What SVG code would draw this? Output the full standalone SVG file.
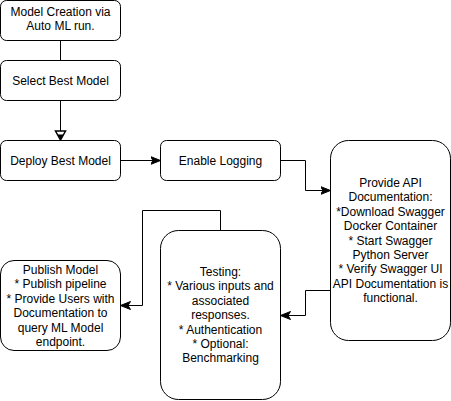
<svg xmlns="http://www.w3.org/2000/svg" width="451" height="401" viewBox="0 0 451 401">
<style>
.box{fill:#fff;stroke:#000;stroke-width:1}
.t{font-family:"Liberation Sans",Arial,Helvetica,sans-serif;font-size:12px;fill:#000;text-anchor:middle}
.c{fill:none;stroke:#000;stroke-width:1}
</style>
<defs>
<marker id="arr" viewBox="0 0 10 10" refX="9" refY="5" markerWidth="10" markerHeight="10" markerUnits="userSpaceOnUse" orient="auto">
<path d="M0,1 L10,5 L0,9 L2.5,5 Z" fill="#000" stroke="#000" stroke-width="1"/>
</marker>
</defs>
<rect width="451" height="401" fill="#fff"/>
<g id="connectors">
<path class="c" d="M60.5,40.5 V60.5"/>
<path class="c" d="M60.5,100.5 V131"/>
<path d="M55.5,131 L65.5,131 L60.5,140 Z" fill="#fff" stroke="#000" stroke-width="1.5"/>
<path d="M57.5,134.5 L63.5,134.5 L60.5,140 Z" fill="#000"/>
<path class="c" d="M120.5,160.5 H159.5" marker-end="url(#arr)"/>
<path class="c" d="M280.5,160.5 H305.5 V190.5 H329.5" marker-end="url(#arr)"/>
<path class="c" d="M330.5,290.5 H305.5 V315.5 H281.5" marker-end="url(#arr)"/>
<path class="c" d="M220.5,230.5 V210.5 H142.5 V305.5 H121.5" marker-end="url(#arr)"/>
</g>
<g id="n1">
<rect class="box" x="0.5" y="0.5" width="120" height="40" rx="6" ry="6"/>
<text class="t" x="60.5" y="16">Model Creation via</text>
<text class="t" x="60.5" y="30">Auto ML run.</text>
</g>
<g id="n2">
<rect class="box" x="0.5" y="60.5" width="120" height="40" rx="6" ry="6"/>
<text class="t" x="60.5" y="85">Select Best Model</text>
</g>
<g id="n3">
<rect class="box" x="0.5" y="140.5" width="120" height="40" rx="6" ry="6"/>
<text class="t" x="60.5" y="165">Deploy Best Model</text>
</g>
<g id="n4">
<rect class="box" x="160.5" y="140.5" width="120" height="40" rx="6" ry="6"/>
<text class="t" x="220.5" y="165">Enable Logging</text>
</g>
<g id="n5">
<rect class="box" x="330.5" y="140.5" width="120" height="200" rx="18" ry="18"/>
<text class="t" x="390.5" y="187">Provide API</text>
<text class="t" x="390.5" y="201.4">Documentation:</text>
<text class="t" x="390.5" y="215.8">*Download Swagger</text>
<text class="t" x="390.5" y="230.2">Docker Container</text>
<text class="t" x="390.5" y="244.6">* Start Swagger</text>
<text class="t" x="390.5" y="259">Python Server</text>
<text class="t" x="390.5" y="273.4">* Verify Swagger UI</text>
<text class="t" x="390.5" y="287.8">API Documentation is</text>
<text class="t" x="390.5" y="302.2">functional.</text>
</g>
<g id="n6">
<rect class="box" x="160.5" y="230.5" width="120" height="169" rx="18" ry="18"/>
<text class="t" x="220.5" y="276">Testing:</text>
<text class="t" x="220.5" y="290.4">* Various inputs and</text>
<text class="t" x="220.5" y="304.8">associated</text>
<text class="t" x="220.5" y="319.2">responses.</text>
<text class="t" x="220.5" y="333.6">* Authentication</text>
<text class="t" x="220.5" y="348">* Optional:</text>
<text class="t" x="220.5" y="362.4">Benchmarking</text>
</g>
<g id="n7">
<rect class="box" x="0.5" y="260.5" width="120" height="90" rx="13.5" ry="13.5"/>
<text class="t" x="60.5" y="274">Publish Model</text>
<text class="t" x="60.5" y="288.4">* Publish pipeline</text>
<text class="t" x="60.5" y="302.8">* Provide Users with</text>
<text class="t" x="60.5" y="317.2">Documentation to</text>
<text class="t" x="60.5" y="331.6">query ML Model</text>
<text class="t" x="60.5" y="346">endpoint.</text>
</g>
</svg>
